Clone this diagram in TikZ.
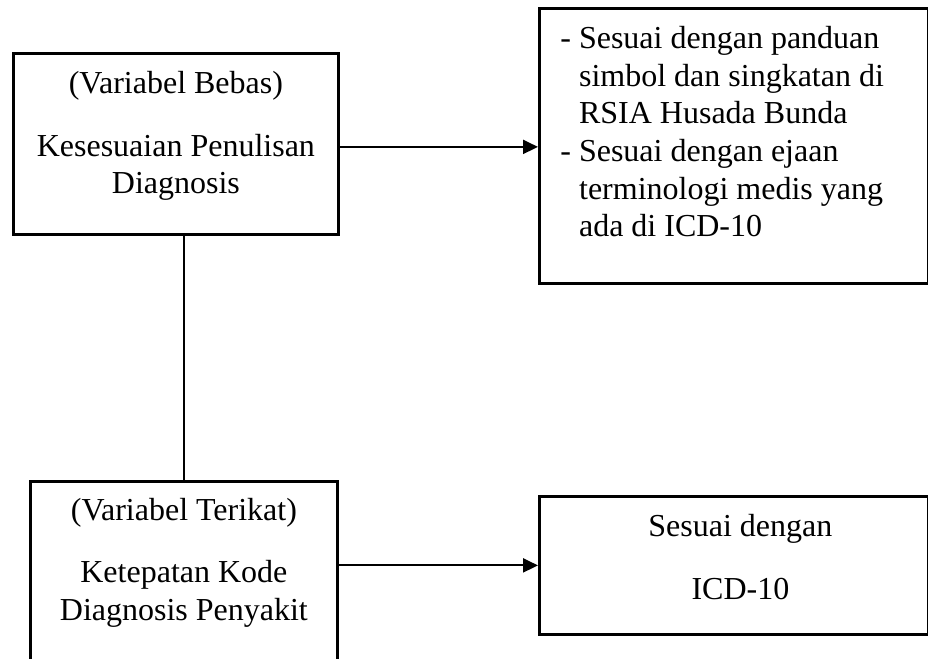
\documentclass[tikz,border=0pt]{standalone}
\usepackage{fontspec}
\setmainfont{Liberation Serif}
\usetikzlibrary{arrows.meta}
\tikzset{
  boxnode/.style={draw, line width=2.8pt, inner sep=0pt, anchor=north west,
    font=\fontsize{32pt}{37.7pt}\selectfont},
  conn/.style={line width=2pt},
  arr/.style={conn, -{Triangle[length=15pt,width=14pt]}},
}
\begin{document}
\begin{tikzpicture}[x=1pt,y=-1pt]
\useasboundingbox (0,0) rectangle (928,658);
\clip (0,0) rectangle (928,658);
\node[boxnode] (b1) at (12,52) {\parbox[c][181pt][t]{325pt}{\centering\rule{0pt}{40pt}(Variabel Bebas)\\[25pt]Kesesuaian Penulisan\\Diagnosis}};
\node[boxnode] (b2) at (538,7) {\parbox[c][275pt][t]{389pt}{\raggedright\leftskip=21pt\relax
\hangindent=18.7pt\hangafter=1\rule{0pt}{40pt}- Sesuai dengan panduan\newline simbol dan singkatan di\newline RSIA Husada Bunda\par
\hangindent=18.7pt\hangafter=1\relax - Sesuai dengan ejaan\newline terminologi medis yang\newline ada di ICD-10\par}};
\node[boxnode] (b3) at (29,480) {\parbox[c][200pt][t]{307pt}{\centering\rule{0pt}{39pt}(Variabel Terikat)\\[24.3pt]Ketepatan Kode\\Diagnosis Penyakit}};
\node[boxnode] (b4) at (538,495) {\parbox[c][138pt][t]{389pt}{\centering\leftskip=13pt plus 1fil\relax\rule{0pt}{40pt}Sesuai dengan\\[25.3pt]ICD-10}};
\draw[conn] (b3.north) -- (b3.north |- b1.south);
\draw[arr] ([yshift=-3pt]b1.east) -- ([yshift=-3pt]b1.east -| b2.west);
\draw[arr] (b4.west -| b3.east) -- (b4.west);
\end{tikzpicture}
\end{document}
